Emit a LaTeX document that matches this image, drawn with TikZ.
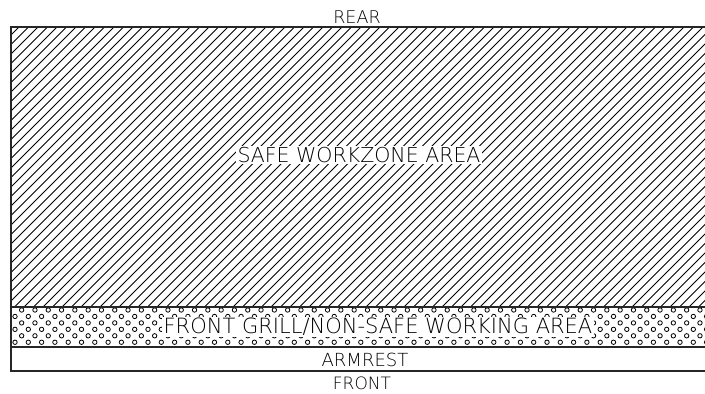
\documentclass[tikz,border=0pt]{standalone}
\usepackage{fontspec}
\setmainfont{DejaVu Sans ExtraLight}
\begin{document}
\begin{tikzpicture}[x=1pt,y=-1pt,
  frame/.style={line width=1.1pt, draw=black!85},
  hatch/.style={line width=0.75pt},
  dotc/.style={line width=0.8pt},
  lbl/.style={inner sep=1.5pt, fill=white, text=black},
]
\useasboundingbox (0,0) rectangle (705,394);
\clip (0,0) rectangle (705,394);
% diagonal hatch of safe workzone
\begin{scope}
  \clip (11,27) rectangle (720,307);
  \foreach \i in {0,...,105} \draw[hatch] ({-280+\i*9.5},307) -- ++(280,-280);
\end{scope}
% circle pattern of front grill
\begin{scope}
  \clip (11,307) rectangle (720,347);
  \foreach \r in {0,...,5}
    \foreach \c in {0,...,53}
      \draw[dotc] ({15+6.65*(1-mod(\r,2))+13.3*\c},{310+\r*6.45}) circle (2.2);
\end{scope}
% frame
\draw[frame] (720,27) -- (11,27) -- (11,371) -- (720,371);
\draw[frame] (11,307) -- (720,307);
\draw[frame] (11,347) -- (720,347);
% labels
\node[lbl, fill=none, font=\fontsize{17.5}{17.5}\selectfont] (rear) at (357,17) {REAR};
\node[lbl, font=\fontsize{20.5}{20.5}\selectfont] (safe) at (359,155) {SAFE WORKZONE AREA};
\node[lbl, font=\fontsize{21}{21}\selectfont] (grill) at (378,327) {FRONT GRILL/NON-SAFE WORKING AREA};
\node[lbl, fill=none, font=\fontsize{18}{18}\selectfont] (armrest) at (365,359.5) {ARMREST};
\node[lbl, fill=none, inner sep=0pt, font=\fontsize{17}{17}\selectfont] (front) at (362,383.5) {FRONT};
\end{tikzpicture}
\end{document}
